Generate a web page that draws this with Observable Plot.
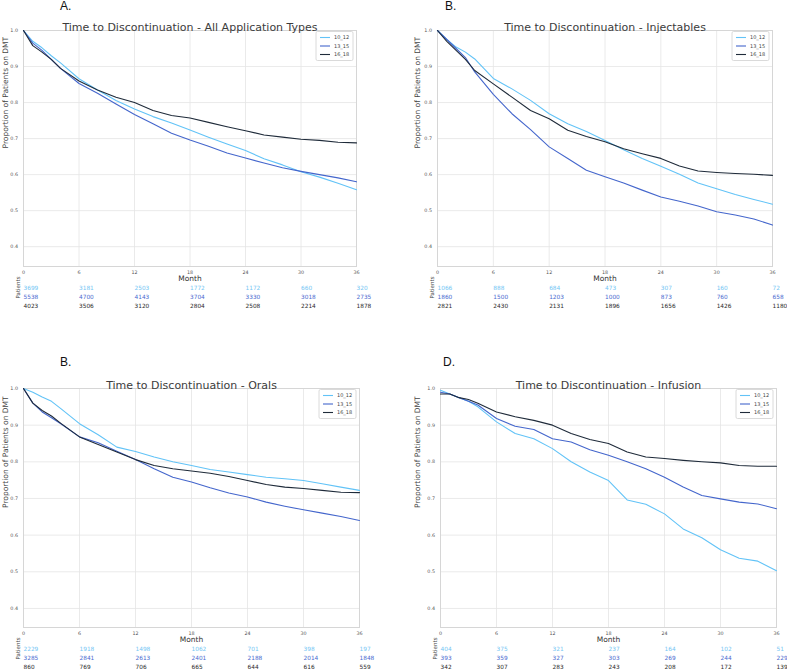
<!DOCTYPE html>
<html><head><meta charset="utf-8">
<script src="https://cdn.jsdelivr.net/npm/d3@7"></script>
<script src="https://cdn.jsdelivr.net/npm/@observablehq/plot@0.6"></script>
<style>
body{margin:0;background:#fff;}
#root{position:relative;width:787px;height:671px;overflow:hidden;font-family:"DejaVu Sans",sans-serif;}
.panel{position:absolute;}
.letter{position:absolute;font-family:"Liberation Sans",Arial,sans-serif;font-size:12px;line-height:12px;color:#111;}
</style></head>
<body><div id="root"></div>
<script>
// ---- data ----
const months = [0,1,2,3,4,6,8,10,12,14,16,18,20,22,24,26,28,30,32,34,36];
const series = ["10_12","13_15","16_18"];
const riskMonths = [0,6,12,18,24,30,36];
const yTicks = [0.4,0.5,0.6,0.7,0.8,0.9,1.0];
const titles = ["Time to Discontinuation - All Application Types","Time to Discontinuation - Injectables","Time to Discontinuation - Orals","Time to Discontinuation - Infusion"];
const letters = ["A.","B.","B.","D."];

const all_10_12 = [1.0,0.97,0.952,0.93,0.91,0.866,0.835,0.806,0.782,0.761,0.743,0.724,0.704,0.685,0.667,0.644,0.627,0.608,0.593,0.576,0.558];
const all_13_15 = [1.0,0.965,0.945,0.92,0.895,0.853,0.826,0.796,0.767,0.741,0.715,0.696,0.679,0.66,0.646,0.632,0.619,0.609,0.6,0.591,0.58];
const all_16_18 = [1.0,0.958,0.94,0.92,0.895,0.86,0.835,0.815,0.80,0.778,0.764,0.757,0.745,0.733,0.722,0.71,0.704,0.698,0.695,0.69,0.688];

const inj_10_12 = [1.0,0.975,0.954,0.94,0.921,0.867,0.838,0.806,0.769,0.741,0.72,0.695,0.669,0.645,0.623,0.601,0.577,0.561,0.545,0.531,0.518];
const inj_13_15 = [1.0,0.975,0.95,0.925,0.885,0.823,0.769,0.725,0.677,0.645,0.612,0.594,0.577,0.557,0.538,0.526,0.513,0.497,0.488,0.477,0.46];
const inj_16_18 = [1.0,0.97,0.945,0.92,0.889,0.852,0.815,0.778,0.755,0.723,0.706,0.691,0.672,0.658,0.645,0.624,0.61,0.606,0.603,0.601,0.598];

const ora_10_12 = [1.0,0.99,0.977,0.965,0.945,0.904,0.874,0.84,0.828,0.813,0.8,0.79,0.779,0.772,0.765,0.758,0.754,0.749,0.74,0.731,0.722];
const ora_13_15 = [1.0,0.96,0.936,0.92,0.904,0.868,0.852,0.829,0.806,0.781,0.758,0.745,0.729,0.715,0.704,0.69,0.679,0.669,0.66,0.651,0.64];
const ora_16_18 = [1.0,0.96,0.94,0.925,0.905,0.868,0.847,0.827,0.806,0.79,0.781,0.775,0.769,0.76,0.749,0.738,0.731,0.727,0.722,0.717,0.716];

const inf_10_12 = [0.995,0.985,0.975,0.965,0.95,0.909,0.877,0.863,0.836,0.80,0.772,0.749,0.696,0.684,0.658,0.617,0.593,0.56,0.537,0.529,0.503];
const inf_13_15 = [0.99,0.985,0.975,0.965,0.955,0.918,0.897,0.888,0.863,0.854,0.833,0.818,0.8,0.781,0.758,0.731,0.708,0.699,0.69,0.685,0.672];
const inf_16_18 = [0.985,0.985,0.975,0.97,0.96,0.936,0.923,0.913,0.9,0.877,0.861,0.85,0.827,0.813,0.809,0.804,0.8,0.797,0.79,0.788,0.788];

const riskAll = [[3699,3181,2503,1772,1172,660,320],[5538,4700,4143,3704,3330,3018,2735],[4023,3506,3120,2804,2508,2214,1878]];
const riskInj = [[1066,888,684,473,307,160,72],[1860,1500,1203,1000,873,760,658],[2821,2430,2131,1896,1656,1426,1180]];
const riskOra = [[2229,1918,1498,1062,701,398,197],[3285,2841,2613,2401,2188,2014,1848],[860,769,706,665,644,616,559]];
const riskInf = [[404,375,321,237,164,102,51],[393,359,327,303,269,244,229],[342,307,283,243,208,172,139]];

// ---- styles ----
const lineColors = ["#62c3f7","#4466cc","#1f2b3a"];
const riskColors = ["#74c6f4","#4a6ad0","#2a2a2a"];

const panels = [
  {left:0,top:0,w:393,h:335,ml:23,mr:37,mt:30,mb:69,ymin:0.345,ylab:-18,values:[all_10_12,all_13_15,all_16_18],risk:riskAll,title:titles[0],letter:letters[0],lx:60,ly:0},
  {left:400,top:0,w:387,h:335,ml:37,mr:15,mt:30,mb:69,ymin:0.345,ylab:-20,values:[inj_10_12,inj_13_15,inj_16_18],risk:riskInj,title:titles[1],letter:letters[1],lx:445,ly:0},
  {left:0,top:340,w:393,h:331,ml:23,mr:34,mt:48,mb:44,ymin:0.348,ylab:-18,values:[ora_10_12,ora_13_15,ora_16_18],risk:riskOra,title:titles[2],letter:letters[2],lx:60,ly:356},
  {left:400,top:340,w:387,h:331,ml:40,mr:11,mt:48,mb:44,ymin:0.348,ylab:-23,values:[inf_10_12,inf_13_15,inf_16_18],risk:riskInf,title:titles[3],letter:letters[3],lx:443,ly:356}
];

const root = document.getElementById("root");

function makePanel(p){
  const rows = [];
  series.forEach((s,i)=>p.values[i].forEach((v,j)=>rows.push({s,t:months[j],v})));
  const risk = [];
  series.forEach((s,i)=>p.risk[i].forEach((n,j)=>risk.push({s,i,t:riskMonths[j],n})));
  const svg = Plot.plot({
    width:p.w, height:p.h,
    marginLeft:p.ml, marginRight:p.mr, marginTop:p.mt, marginBottom:p.mb,
    style:{fontFamily:"DejaVu Sans", background:"transparent", overflow:"visible"},
    x:{domain:[0,36], label:null},
    y:{domain:[p.ymin,1.0], label:null},
    color:{domain:series, range:lineColors},
    marks:[
      Plot.gridX({ticks:riskMonths, stroke:"#e4e4e4", strokeOpacity:1, strokeWidth:0.8}),
      Plot.gridY({ticks:yTicks, stroke:"#e4e4e4", strokeOpacity:1, strokeWidth:0.8}),
      Plot.frame({stroke:"#d6d6d6", strokeWidth:1}),
      Plot.axisX({ticks:riskMonths, tickSize:0, tickPadding:4, fontSize:4.8, fill:"#555", label:null, tickFormat:d=>String(d)}),
      Plot.axisY({ticks:yTicks, tickSize:0, tickPadding:5.5, fontSize:4.8, fill:"#555", label:null, tickFormat:d3.format(".1f")}),
      Plot.line(rows, {x:"t", y:"v", z:"s", stroke:"s", strokeWidth:1.1}),
      Plot.text([p.title], {frameAnchor:"top", dy:-7, fontSize:11, fill:"#3c3c3c"}),
      Plot.text(["Month"], {frameAnchor:"bottom", dy:14, fontSize:7.5, fill:"#333"}),
      Plot.text(["Proportion of Patients on DMT"], {frameAnchor:"left", dx:p.ylab, rotate:-90, fontSize:7.5, fill:"#444"}),
      Plot.text(["Patients"], {frameAnchor:"bottom-left", dx:-4, dy:32, rotate:-90, fontSize:5.5, fill:"#444"}),
      ...series.map((s,i)=>Plot.text(risk.filter(d=>d.i===i), {x:"t", text:d=>String(d.n), frameAnchor:"bottom", dy:23+9*i, textAnchor:"start", fill:riskColors[i], fontSize:5.8}))
    ]
  });
  // legend box (top-right of frame)
  const fr = p.w - p.mr;
  const g = d3.select(svg).append("g").attr("transform",`translate(${fr-40},${p.mt+1.5})`).attr("text-anchor","start");
  g.append("rect").attr("width",37).attr("height",29).attr("fill","#fff").attr("stroke","#d0d0d0").attr("stroke-width",0.8).attr("rx",1.5);
  series.forEach((s,i)=>{
    const y = 6+8.5*i;
    g.append("line").attr("x1",4).attr("x2",14).attr("y1",y).attr("y2",y).attr("stroke",lineColors[i]).attr("stroke-width",1.1);
    g.append("text").attr("x",18).attr("y",y).attr("dy","0.35em").attr("text-anchor","start").attr("font-size",5).attr("fill","#444").attr("font-family","DejaVu Sans").text(s);
  });
  svg.classList.add("panel");
  svg.style.left = p.left+"px";
  svg.style.top = p.top+"px";
  root.appendChild(svg);
  const L = document.createElement("div");
  L.className = "letter";
  L.style.left = p.lx+"px"; L.style.top = p.ly+"px";
  L.textContent = p.letter;
  root.appendChild(L);
}
panels.forEach(makePanel);
</script>
</body></html>
